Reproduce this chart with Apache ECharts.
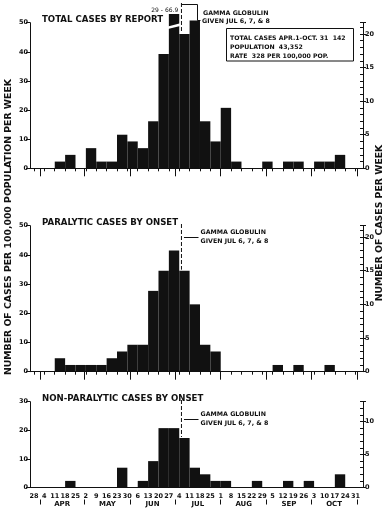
<!DOCTYPE html>
<html><head><meta charset="utf-8">
<script src="https://cdn.jsdelivr.net/npm/echarts@6/dist/echarts.min.js"></script>
<style>html,body{margin:0;padding:0;background:#fff}#c{width:386px;height:508px}</style>
</head><body><div id="c"></div>
<script>
// ---------- data ----------
const population = 43352;
const totalCasesAprOct = 142;
const ratePer100k = 328;
// week start dates (Mar 28 ... Oct 31); bars are the weeks between them
const weekLabels = ['28','4','11','18','25','2','9','16','23','30','6','13','20','27','4','11','18','25','1','8','15','22','29','5','12','19','26','3','10','17','24','31'];
const monthNames = ['APR','MAY','JUN','JUL','AUG','SEP','OCT'];
const monthStartDays = [4,34,65,95,126,157,187,218]; // days after Mar 28
// number of cases per week
const totalByReport       = [0,0,1,2,0,3,1,1,5,4,3,7,17,29,20,22,7,4,9,1,0,0,1,0,1,1,0,1,1,2,0];
const paralyticByOnset    = [0,0,2,1,1,1,1,2,3,4,4,12,15,18,15,10,4,3,0,0,0,0,0,1,0,1,0,0,1,0,0];
const nonParalyticByOnset = [0,0,0,1,0,0,0,0,3,0,1,4,9,9,7.5,3,2,1,1,0,0,1,0,0,1,0,1,0,0,2,0];
const brokenBarText = '29 - 66.9';
const gammaGlobulinDay = 99.5; // Jul 6
const gammaWeek = 14;          // week of Jul 4
const panelTitles = ['TOTAL CASES BY REPORT','PARALYTIC CASES BY ONSET','NON-PARALYTIC CASES BY ONSET'];
const leftMax = [50, 50, 30];

// ---------- layout ----------
const FONT = 'DejaVu Sans';
const INK = '#111';
const panels = [
  {top: 22.7, height: 145.6, data: totalByReport},
  {top: 225.7, height: 146, data: paralyticByOnset},
  {top: 401.7, height: 86.6, data: nonParalyticByOnset}
];
const X_MIN = -2.7, X_MAX = 222;
const weekEdgeDays = weekLabels.map((_, i) => i * 7);
const monthMidDays = monthNames.map((_, i) => (monthStartDays[i] + monthStartDays[i + 1]) / 2);

const chart = echarts.init(document.getElementById('c'), null, {renderer: 'canvas'});

function makeRender() {
  return function (params, api) {
    const i = api.value(0), v = api.value(1);
    if (!(v > 0)) return null;
    const a = api.coord([i * 7, 0]);
    const b = api.coord([(i + 1) * 7, v]);
    const cs = params.coordSys;
    let top = b[1];
    const broken = top < cs.y - 12;
    if (broken) top = cs.y - 8.7;
    const children = [{type: 'rect', shape: {x: a[0], y: top, width: b[0] - a[0], height: a[1] - top}, style: {fill: INK}}];
    if (broken) {
      children.push({type: 'polygon', shape: {points: [[a[0] - 1, cs.y + 3.8], [b[0] + 1, cs.y + 0.6], [b[0] + 1, cs.y + 3.2], [a[0] - 1, cs.y + 6.2]]}, style: {fill: '#fff'}});
      children.push({type: 'text', style: {text: brokenBarText, x: b[0] - 1, y: top - 1, align: 'right', verticalAlign: 'bottom', fontSize: 6, fontFamily: FONT, fill: INK}});
    }
    return {type: 'group', children};
  };
}

const grid = [], xAxis = [], yAxis = [], series = [];
panels.forEach((p, g) => {
  const rightMax = leftMax[g] * population / 100000;
  grid.push({left: 30, width: 333, top: p.top, height: p.height});
  xAxis.push({
    type: 'value', gridIndex: g, position: 'bottom', min: X_MIN, max: X_MAX,
    axisLine: {show: true, onZero: false, lineStyle: {color: INK, width: 1}},
    axisTick: {show: g < 2, customValues: weekEdgeDays, length: 3, lineStyle: {color: INK}},
    axisLabel: {show: g === 2, customValues: weekEdgeDays, formatter: v => weekLabels[Math.round(v / 7)],
      fontSize: 6.5, margin: 5, color: INK, fontFamily: FONT, fontWeight: 'bold'},
    splitLine: {show: false}
  });
  xAxis.push({
    type: 'value', gridIndex: g, position: 'bottom', offset: g === 2 ? 12 : 0, min: X_MIN, max: X_MAX,
    axisLine: {show: false, onZero: false},
    axisTick: {show: true, customValues: monthStartDays, length: g === 2 ? 5 : 8, lineStyle: {color: INK}},
    axisLabel: {show: g === 2, customValues: monthMidDays,
      formatter: v => monthNames[monthMidDays.findIndex(m => Math.abs(m - v) < 0.01)] || '',
      fontSize: 7, margin: 1.5, color: INK, fontFamily: FONT, fontWeight: 'bold'},
    splitLine: {show: false}
  });
  yAxis.push({
    type: 'value', gridIndex: g, position: 'left', min: 0, max: leftMax[g], interval: 10,
    axisLine: {show: true, onZero: false, lineStyle: {color: INK}},
    axisTick: {show: true, length: 4, lineStyle: {color: INK}},
    axisLabel: {fontSize: 6.5, margin: 2, color: INK, fontFamily: FONT, fontWeight: 'bold'},
    splitLine: {show: false}
  });
  yAxis.push({
    type: 'value', gridIndex: g, position: 'right', min: 0, max: rightMax, interval: 5,
    axisLine: {show: true, onZero: false, lineStyle: {color: INK}},
    axisTick: {show: true, length: 3, lineStyle: {color: INK}},
    axisLabel: {formatter: v => (Math.abs(v % 5) < 1e-9 ? String(v) : ''), fontSize: 6.5, margin: 2, color: INK, fontFamily: FONT, fontWeight: 'bold'},
    splitLine: {show: false}
  });
  yAxis.push({
    type: 'value', gridIndex: g, position: 'right', min: 0, max: rightMax, interval: 1,
    axisLine: {show: false, onZero: false},
    axisTick: {show: true, inside: true, length: 3, lineStyle: {color: INK}},
    axisLabel: {show: false},
    splitLine: {show: false}
  });
  series.push({
    type: 'custom', xAxisIndex: 2 * g, yAxisIndex: 3 * g + 1, clip: false,
    renderItem: makeRender(),
    data: p.data.map((v, i) => [i, v])
  });
});

chart.setOption({animation: false, backgroundColor: '#fff', grid, xAxis, yAxis, series});

// ---------- annotations ----------
const txt = (text, x, y, size, extra) => Object.assign({type: 'text', style: Object.assign({text, x, y, fontSize: size, fontFamily: FONT, fill: INK, verticalAlign: 'middle'}, extra || {})});
const seg = (pts, dash) => ({type: 'polyline', shape: {points: pts}, style: {stroke: INK, lineWidth: 1, fill: null, lineDash: dash || null}});

const graphic = [];
const titleY = [19.3, 222.7, 398.3];
panelTitles.forEach((t, g) => graphic.push(txt(t, 42, titleY[g], 8.6, {fontWeight: 'bold'})));

const dashTop = [3, 224, 400];
const connY = [4.5, 237.5, 419.5];
const textY1 = [13.3, 232.7, 414];
const textY2 = [21, 241.7, 423.3];
panels.forEach((p, g) => {
  const x = chart.convertToPixel({xAxisIndex: 2 * g}, gammaGlobulinDay);
  const barTop = chart.convertToPixel({yAxisIndex: 3 * g + 1}, p.data[gammaWeek]);
  graphic.push(seg([[x, dashTop[g]], [x, barTop - 1]], [4, 2]));
  if (g === 0) {
    graphic.push(seg([[x, connY[0]], [197.5, connY[0]], [197.5, 20.5], [200.5, 20.5]]));
    graphic.push(txt('GAMMA GLOBULIN', 203, textY1[g], 6.3, {fontWeight: 'bold'}));
    graphic.push(txt('GIVEN JUL 6, 7, & 8', 202, textY2[g], 6.3, {fontWeight: 'bold'}));
  } else {
    graphic.push(seg([[x + 2.5, connY[g]], [198.5, connY[g]]]));
    graphic.push(txt('GAMMA GLOBULIN', 200.5, textY1[g], 6.3, {fontWeight: 'bold'}));
    graphic.push(txt('GIVEN JUL 6, 7, & 8', 200.5, textY2[g], 6.3, {fontWeight: 'bold'}));
  }
});

// summary box
graphic.push({type: 'rect', shape: {x: 226.5, y: 28.5, width: 127, height: 32.5}, style: {fill: '#fff', stroke: INK, lineWidth: 1}});
graphic.push(txt('TOTAL CASES APR.1-OCT. 31  ' + totalCasesAprOct, 230, 38, 6.2, {fontWeight: 'bold'}));
graphic.push(txt('POPULATION  ' + population.toLocaleString('en-US'), 230, 47.5, 6.2, {fontWeight: 'bold'}));
graphic.push(txt('RATE  ' + ratePer100k + ' PER 100,000 POP.', 230, 56.5, 6.2, {fontWeight: 'bold'}));

// side axis titles
graphic.push({type: 'text', x: 9, y: 227, rotation: Math.PI / 2,
  style: {text: 'NUMBER OF CASES PER 100,000 POPULATION PER WEEK', align: 'center', verticalAlign: 'middle', fontSize: 9.3, fontWeight: 'bold', fontFamily: FONT, fill: INK}});
graphic.push({type: 'text', x: 380, y: 223, rotation: Math.PI / 2,
  style: {text: 'NUMBER OF CASES PER WEEK', align: 'center', verticalAlign: 'middle', fontSize: 9.3, fontWeight: 'bold', fontFamily: FONT, fill: INK}});

chart.setOption({graphic});
</script></body></html>
